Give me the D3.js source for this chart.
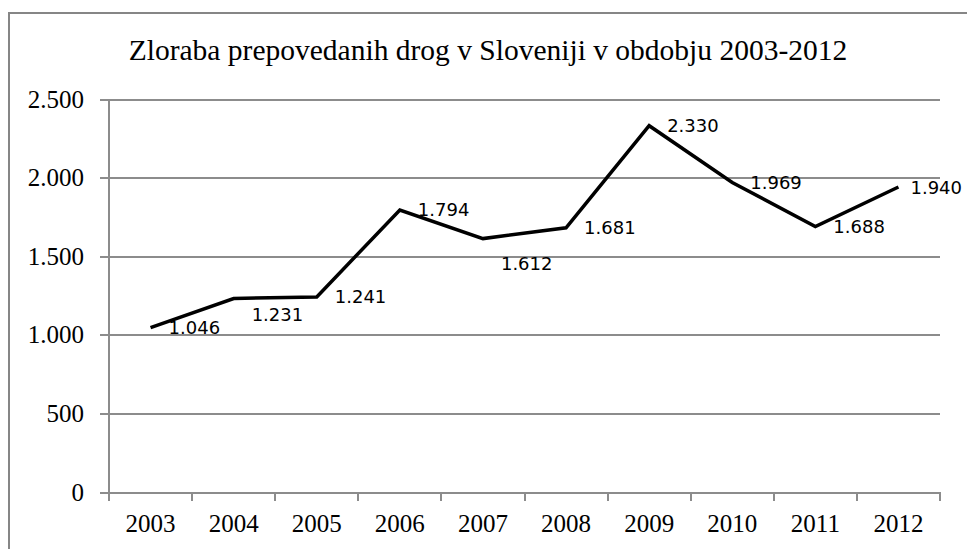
<!DOCTYPE html>
<meta charset="utf-8">
<style>
body {
	margin: 0;
	background-color: #ffffff;
}
.axis line, .axis path {
	fill: none;
	stroke: #8c8c8c;
	stroke-width: 2;
	shape-rendering: crispEdges;
}
.grid line {
	stroke: #8c8c8c;
	stroke-width: 2;
	shape-rendering: crispEdges;
}
.grid path { display: none; }
</style>
<body>
<script src="https://d3js.org/d3.v7.min.js"></script>
<script>
var width = 967;
var height = 549;

var title = 'Zloraba prepovedanih drog v Sloveniji v obdobju 2003-2012';
var years = ['2003', '2004', '2005', '2006', '2007', '2008', '2009', '2010', '2011', '2012'];
var values = [1046, 1231, 1241, 1794, 1612, 1681, 2330, 1969, 1688, 1940];
var yTicks = [0, 500, 1000, 1500, 2000, 2500];

// labels that Excel pushed down below the line
var labelDrop = {'2004': 16, '2007': 25};

var margin = {top: 99, left: 109, right: 27, bottom: 57};
var serif = '"Liberation Serif", "Times New Roman", serif';

var svg = d3.select('body')
	.append('svg')
	.attr('width', width)
	.attr('height', height);

// chart frame (cut off on the right and bottom in the original)
svg.append('rect')
	.attr('x', 9)
	.attr('y', 13)
	.attr('width', width + 10)
	.attr('height', height + 10)
	.style('fill', '#fff')
	.style('stroke', '#868686')
	.style('stroke-width', 2);

var x = d3.scaleBand()
	.domain(years)
	.range([margin.left, width - margin.right]);

var y = d3.scaleLinear()
	.domain([0, 2500])
	.range([height - margin.bottom, margin.top]);

var fmt = function(v) { return d3.format(',')(v).replace(/,/g, '.'); };

svg.append('g')
	.attr('class', 'grid')
	.attr('transform', 'translate(' + margin.left + ',0)')
	.call(d3.axisRight(y).tickValues(yTicks.slice(1)).tickSize(width - margin.right - margin.left).tickFormat(''));

var yAxis = svg.append('g')
	.attr('class', 'y axis')
	.attr('transform', 'translate(' + margin.left + ',0)')
	.call(d3.axisLeft(y).tickValues(yTicks).tickSize(9).tickSizeOuter(0).tickPadding(16).tickFormat(fmt));

var xAxis = svg.append('g')
	.attr('class', 'x axis')
	.attr('transform', 'translate(0,' + y(0) + ')')
	.call(d3.axisBottom(x).tickSize(0).tickPadding(22));

svg.selectAll('.axis').attr('font-family', serif).attr('font-size', 25);
svg.selectAll('.axis text').style('fill', '#000');

// tick marks sit between the categories
xAxis.selectAll('.sep')
	.data(years.concat(['end']))
	.enter()
	.append('line')
	.attr('class', 'sep')
	.attr('x1', function(d, i) { return margin.left + i * x.step(); })
	.attr('x2', function(d, i) { return margin.left + i * x.step(); })
	.attr('y1', 0)
	.attr('y2', 9);

yAxis.select('.domain').remove();
svg.append('line')
	.attr('x1', margin.left)
	.attr('x2', margin.left)
	.attr('y1', y(2500))
	.attr('y2', y(0))
	.style('stroke', '#8c8c8c')
	.style('stroke-width', 2)
	.style('shape-rendering', 'crispEdges');

var line = d3.line()
	.x(function(d, i) { return x(years[i]) + x.bandwidth() / 2; })
	.y(function(d) { return y(d); });

svg.append('path')
	.datum(values)
	.attr('d', line)
	.style('fill', 'none')
	.style('stroke', '#000')
	.style('stroke-width', 3.5)
	.style('stroke-linejoin', 'miter');

svg.selectAll('.label')
	.data(values)
	.enter()
	.append('text')
	.attr('class', 'label')
	.style('font', '18px "DejaVu Sans", sans-serif')
	.style('fill', '#000')
	.attr('x', function(d, i) { return x(years[i]) + x.bandwidth() / 2 + 18; })
	.attr('y', function(d, i) { return y(d) + (labelDrop[years[i]] || 0); })
	.attr('dy', '0.36em')
	.text(function(d) { return fmt(d); })
	.each(function() {
		var bb = this.getBBox();
		if (bb.x + bb.width > width - 5) d3.select(this).attr('x', width - 5 - bb.width);
	});

svg.append('text')
	.attr('x', 488)
	.attr('y', 60)
	.attr('text-anchor', 'middle')
	.style('font', '29.5px ' + serif)
	.style('fill', '#000')
	.text(title);
</script>
</body>
